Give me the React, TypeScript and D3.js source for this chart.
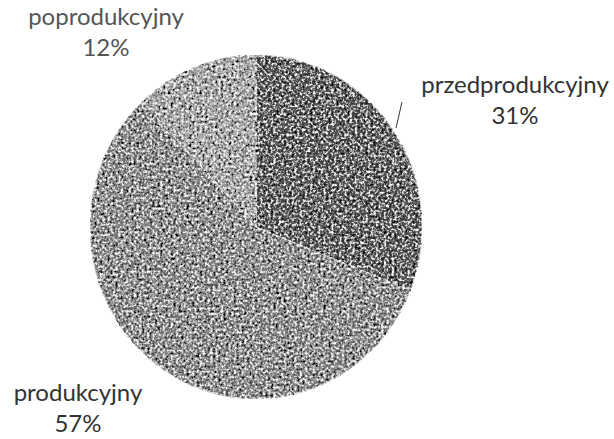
import React from "react";
import * as d3 from "d3";

const categories = ["przedprodukcyjny", "produkcyjny", "poprodukcyjny"];
const values = [31, 57, 12];
const percentLabels = ["31%", "57%", "12%"];

const W = 614;
const H = 439;
const cx = 256;
const cy = 227;
const rx = 166;
const ry = 172;

const fills = ["#5a5a5a", "#8c8c8c", "#a8a8a8"];
const labelPos: [number, number][] = [
  [515, 93],
  [78, 401],
  [106, 25],
];

export default function App() {
  const pie = d3
    .pie<number>()
    .sort(null)
    .value((d) => d)
    .startAngle(0)
    .endAngle(2 * Math.PI);
  const arcs = pie(values);
  const arc = d3.arc<d3.PieArcDatum<number>>().innerRadius(0).outerRadius(ry);

  return (
    <svg
      width={W}
      height={H}
      style={{ position: "absolute", left: 0, top: 0, background: "#fff" }}
    >
      <defs>
        <filter id="grain" x="0" y="0" width="100%" height="100%">
          <feTurbulence type="fractalNoise" baseFrequency="0.38" numOctaves="2" seed="7" result="noise" />
          <feColorMatrix in="noise" type="saturate" values="0" result="gray" />
          <feComponentTransfer in="gray" result="contrast">
            <feFuncR type="linear" slope="2.6" intercept="-0.8" />
            <feFuncG type="linear" slope="2.6" intercept="-0.8" />
            <feFuncB type="linear" slope="2.6" intercept="-0.8" />
            <feFuncA type="linear" slope="0" intercept="1" />
          </feComponentTransfer>
          <feBlend in="SourceGraphic" in2="contrast" mode="overlay" result="blend" />
          <feComposite in="blend" in2="SourceGraphic" operator="in" />
        </filter>
      </defs>
      <g filter="url(#grain)">
        <g transform={`translate(${cx},${cy}) scale(${rx / ry},1)`}>
          {arcs.map((a, i) => (
            <path
              key={categories[i]}
              d={arc(a) || ""}
              fill={fills[i]}
              stroke="#d8d8d8"
              strokeWidth={1}
            />
          ))}
        </g>
      </g>
      <line x1={396} y1={128} x2={402} y2={102} stroke="#333" strokeWidth={1} />
      {categories.map((c, i) => (
        <text
          key={c}
          x={labelPos[i][0]}
          y={labelPos[i][1]}
          textAnchor="middle"
          fontFamily="Lato, 'Open Sans', sans-serif"
          fontSize={24}
          fill={i === 2 ? "#555" : "#333"}
        >
          <tspan x={labelPos[i][0]}>{c}</tspan>
          <tspan x={labelPos[i][0]} dy={31}>
            {percentLabels[i]}
          </tspan>
        </text>
      ))}
    </svg>
  );
}
